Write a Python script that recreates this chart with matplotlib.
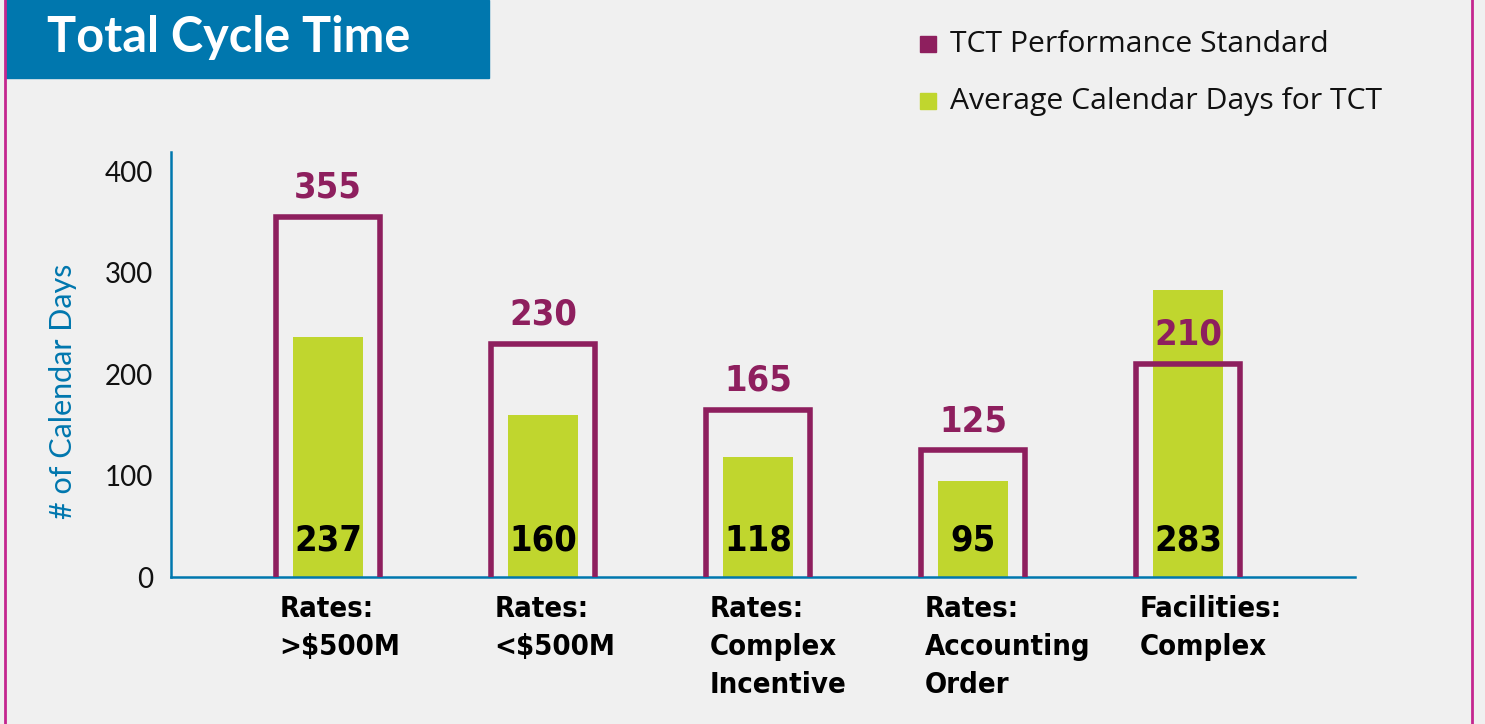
import matplotlib
matplotlib.use("Agg")
import matplotlib.pyplot as plt
from matplotlib.patches import Rectangle
from matplotlib.lines import Line2D

# values
categories = ["Rates:\n>$500M", "Rates:\n<$500M", "Rates:\nComplex\nIncentive",
              "Rates:\nAccounting\nOrder", "Facilities:\nComplex"]
standard_days = [355, 230, 165, 125, 210]
average_days = [237, 160, 118, 95, 283]
yticks = [0, 100, 200, 300, 400]

MAGENTA = "#8e1f5e"
GREEN = "#c0d62e"
BLUE = "#0077ae"
BORDER = "#c4268f"
BG = "#f0f0f0"

COND = dict(fontfamily="DejaVu Sans", fontstretch="condensed", fontweight="bold")

W, H = 1485, 724
fig = plt.figure(figsize=(W / 100, H / 100), dpi=100, facecolor=BG)

# panel frame: pink rules left and right, blue title block
fig.add_artist(Line2D([5 / W, 5 / W], [0, 1], color=BORDER, lw=2, transform=fig.transFigure))
fig.add_artist(Line2D([1472 / W, 1472 / W], [0, 1], color=BORDER, lw=2, transform=fig.transFigure))
fig.add_artist(Rectangle((6 / W, 1 - 78 / H), (489 - 6) / W, 78 / H, color=BLUE,
                         transform=fig.transFigure, zorder=1))
fig.text(47 / W, 1 - 37 / H, "Total Cycle Time", color="white", fontsize=35,
         fontfamily="Lato", fontweight="bold", va="center", ha="left")

# legend
for i, (lab, col) in enumerate([("TCT Performance Standard", MAGENTA),
                                ("Average Calendar Days for TCT", GREEN)]):
    yc = 1 - (44 + 57 * i) / H
    fig.add_artist(Rectangle((920 / W, yc - 8 / H), 16 / W, 16 / H, color=col,
                             transform=fig.transFigure))
    fig.text(950 / W, yc, lab, fontsize=21.7, fontfamily="Open Sans", color="#111111",
             va="center", ha="left")

ax = fig.add_axes([171 / W, 147 / H, (1355 - 171) / W, 425 / H])
ax.set_facecolor("none")
x = list(range(len(categories)))

ax.bar(x, average_days, width=0.326, color=GREEN, zorder=2)

# open-bottomed outline boxes for the standard
hw = 0.242
for xi, v in zip(x, standard_days):
    ax.plot([xi - hw, xi - hw, xi + hw, xi + hw], [0, v, v, 0], color=MAGENTA,
            lw=4, solid_joinstyle="miter", solid_capstyle="butt", zorder=3, clip_on=False)
    ax.text(xi, v + 12, str(v), color=MAGENTA, fontsize=26, ha="center", va="bottom",
            zorder=4, **COND)

for xi, v in zip(x, average_days):
    ax.text(xi, 36, str(v), color="black", fontsize=26, ha="center", va="center",
            zorder=4, **COND)

for xi, lab in zip(x, categories):
    ax.text(xi - 0.225, -18, lab, fontsize=21, ha="left", va="top", linespacing=1.45,
            zorder=4, **COND)

ax.set_xlim(-0.73, 4.777)
ax.set_ylim(0, 419)
ax.set_xticks([])
ax.set_yticks(yticks)
ax.set_yticklabels([str(t) for t in yticks], fontsize=20, fontfamily="Lato",
                   color="#111111")
ax.tick_params(axis="y", length=0, pad=13)
for s in ("top", "right"):
    ax.spines[s].set_visible(False)
for s in ("left", "bottom"):
    ax.spines[s].set_color(BLUE)
    ax.spines[s].set_linewidth(1.8)
ax.set_ylabel("# of Calendar Days", fontsize=22, fontfamily="Lato", color=BLUE)
ax.yaxis.set_label_coords(-0.079, 0.438)

fig.savefig("out.png", dpi=100, facecolor=BG)
